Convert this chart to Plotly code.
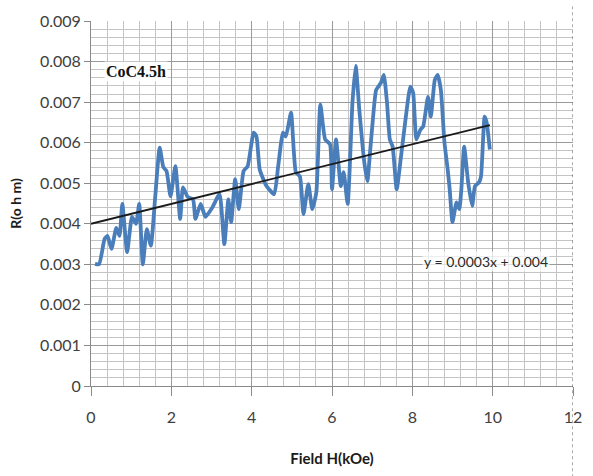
import numpy as np
import plotly.graph_objects as go

field_h = [0.10, 0.20, 0.34, 0.41, 0.51, 0.63, 0.71, 0.78, 0.90, 1.02, 1.12, 1.20, 1.29, 1.39, 1.49,
           1.60, 1.71, 1.80, 1.88, 1.98, 2.10, 2.22, 2.29, 2.41, 2.54, 2.60, 2.73, 2.85, 3.02, 3.20,
           3.32, 3.42, 3.49, 3.59, 3.68, 3.80, 3.90, 4.05, 4.12, 4.20, 4.37, 4.56, 4.66, 4.78, 4.85,
           4.98, 5.10, 5.20, 5.29, 5.41, 5.51, 5.61, 5.71, 5.83, 5.95, 6.00, 6.10, 6.22, 6.29, 6.39,
           6.51, 6.59, 6.68, 6.80, 6.88, 6.95, 7.02, 7.10, 7.22, 7.29, 7.37, 7.44, 7.51, 7.61, 7.71,
           7.83, 7.95, 8.02, 8.10, 8.20, 8.27, 8.39, 8.46, 8.56, 8.63, 8.71, 8.80, 8.88, 8.93, 9.00,
           9.10, 9.17, 9.22, 9.29, 9.39, 9.49, 9.56, 9.66, 9.71, 9.80, 9.85, 9.93]
resistance = [0.00301, 0.00300, 0.00363, 0.00370, 0.00338, 0.00390, 0.00370, 0.00449, 0.00330, 0.00417,
              0.00400, 0.00449, 0.00300, 0.00387, 0.00346, 0.00468, 0.00588, 0.00540, 0.00530, 0.00468,
              0.00542, 0.00412, 0.00490, 0.00466, 0.00460, 0.00412, 0.00449, 0.00417, 0.00440, 0.00473,
              0.00350, 0.00460, 0.00404, 0.00510, 0.00436, 0.00530, 0.00542, 0.00625, 0.00615, 0.00534,
              0.00493, 0.00473, 0.00542, 0.00625, 0.00615, 0.00674, 0.00527, 0.00517, 0.00424, 0.00498,
              0.00436, 0.00478, 0.00694, 0.00608, 0.00596, 0.00485, 0.00608, 0.00493, 0.00527, 0.00449,
              0.00700, 0.00789, 0.00681, 0.00555, 0.00505, 0.00580, 0.00660, 0.00730, 0.00748, 0.00767,
              0.00698, 0.00608, 0.00590, 0.00485, 0.00559, 0.00657, 0.00738, 0.00723, 0.00608, 0.00632,
              0.00640, 0.00713, 0.00664, 0.00755, 0.00767, 0.00730, 0.00600, 0.00534, 0.00485, 0.00404,
              0.00453, 0.00436, 0.00485, 0.00590, 0.00502, 0.00444, 0.00493, 0.00502, 0.00517, 0.00664,
              0.00650, 0.00583]

x_ticks = [0, 2, 4, 6, 8, 10, 12]
y_ticks = [0, 0.001, 0.002, 0.003, 0.004, 0.005, 0.006, 0.007, 0.008, 0.009]
y_tick_text = ["0", "0.001", "0.002", "0.003", "0.004", "0.005", "0.006", "0.007", "0.008", "0.009"]

sample_label = "CoC4.5h"
equation_label = "y = 0.0003x + 0.004"

slope, intercept = np.polyfit(field_h, resistance, 1)
trend_x = [0, max(field_h)]
trend_y = [intercept + slope * v for v in trend_x]

fig = go.Figure()
fig.add_trace(go.Scatter(x=field_h, y=resistance, mode="lines",
                         line=dict(color="#4a7ebb", width=3.8, shape="spline", smoothing=0.5),
                         showlegend=False, hoverinfo="skip"))
fig.add_trace(go.Scatter(x=trend_x, y=trend_y, mode="lines",
                         line=dict(color="#1a1a1a", width=1.8),
                         showlegend=False, hoverinfo="skip"))

tick_font = dict(family="Lato, Open Sans, sans-serif", size=16, color="#404040")

fig.update_xaxes(range=[0, 12], tickvals=x_ticks, ticktext=[str(v) for v in x_ticks],
                 showgrid=True, gridcolor="#9a9a9a", gridwidth=1,
                 minor=dict(dtick=0.4, showgrid=True, gridcolor="#c4c4c4", gridwidth=1),
                 ticks="outside", ticklen=9, tickcolor="#8a8a8a", tickwidth=1,
                 ticklabelstandoff=8,
                 showline=True, linecolor="#8a8a8a", linewidth=1,
                 zeroline=False, tickfont=tick_font,
                 title=dict(text="Field H(kOe)", standoff=28,
                            font=dict(family="Lato, Open Sans, sans-serif", size=15,
                                      color="#1a1a1a", weight="bold")))
fig.update_yaxes(range=[0, 0.009], tickvals=y_ticks, ticktext=y_tick_text,
                 showgrid=True, gridcolor="#9a9a9a", gridwidth=1,
                 minor=dict(dtick=0.0002, showgrid=True, gridcolor="#c4c4c4", gridwidth=1),
                 ticks="outside", ticklen=6, tickcolor="#8a8a8a", tickwidth=1,
                 showline=True, linecolor="#8a8a8a", linewidth=1,
                 zeroline=False, tickfont=tick_font,
                 title=dict(text="R(o h m)", standoff=14,
                            font=dict(family="Lato, Open Sans, sans-serif", size=14,
                                      color="#1a1a1a", weight="bold")))

fig.add_annotation(x=0.32, y=0.00775, xref="x", yref="y", text="<b>" + sample_label + "</b>",
                   showarrow=False, xanchor="left", yanchor="middle",
                   font=dict(family="Liberation Serif, Times New Roman, serif", size=16, color="#111111"),
                   bgcolor="rgba(255,255,255,0.85)")
fig.add_annotation(x=8.25, y=0.00306, xref="x", yref="y", text=equation_label,
                   showarrow=False, xanchor="left", yanchor="middle",
                   font=dict(family="Lato, Open Sans, sans-serif", size=14, color="#2a2a2a"),
                   bgcolor="rgba(255,255,255,0.7)")

fig.add_shape(type="line", xref="x", yref="paper", x0=12, x1=12, y0=-0.25, y1=1.04,
              line=dict(color="#555555", width=1, dash="dot"))

fig.update_layout(width=593, height=476, margin=dict(l=91, r=11, t=21, b=88),
                  paper_bgcolor="white", plot_bgcolor="white")

fig.write_html("out.html")
